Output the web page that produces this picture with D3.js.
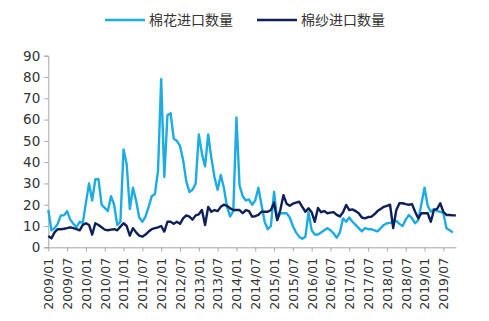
<!DOCTYPE html>
<html><head><meta charset="utf-8">
<script src="https://cdn.jsdelivr.net/npm/d3@7"></script>
<style>
body{margin:0;background:#fff;}
svg{display:block;}
</style></head>
<body><svg id="c" width="489" height="321"></svg>
<script>
const seriesNames = ["棉花进口数量", "棉纱进口数量"];
const startYear = 2009, monthCount = 131;
const yTicks = [0,10,20,30,40,50,60,70,80,90];
// 棉花进口数量 (monthly, 2009/01 - 2019/11)
const cotton = [
17.5,8,9,11,15,15,17,13,11,9.5,12,11.5,
21,30,22,32,32,20,18.5,17,24,20,10.5,12,
46,39,18,28,22,14,12,14.4,19,24,25,36,
79,33,62,63,51,50,47.6,41,31,26,27,30,
53,44,38,53,42,33,27,34,28,19,14.5,17,
61,29,24,22,22.5,20,22,28,20,12,8.5,10,
26,13,16,16,16,14,10,7,5,4,5,16.5,
8,6,6,7,8,9,8,6.5,4.5,7,13.6,12,
14,12,10.5,9,7.5,9,8.5,8.5,8,7.5,9,10.5,
11.3,11.5,12,12.4,11,10,13,15.2,13.6,11.3,12.8,20.5,
28,19.5,16.7,18,17,16.7,16,9,8,7
];
// 棉纱进口数量
const yarn = [
5.3,4.2,7,8.5,8.5,8.7,9,9.4,9,8.5,8,10.5,
11.3,10.5,6,11.3,10.5,9.4,8.3,8,8.3,8.5,8,9.7,
11.3,10,5.5,9,7,5.5,5,6,7.4,8.5,9,9.4,
10,7.4,12,12,11,12,11,13.6,15,14.4,13,15,
15.5,17.5,10.5,19,16.7,17.5,17,19,20,19.5,18.3,17.5,
17.5,17.5,16,17.5,17,14.4,14.6,15.2,16.7,16.7,16.7,17.5,
21,12.8,17.5,24.5,20.5,19.5,20.5,21,21.4,19,16.7,18.3,
16.5,12,18.5,16.5,17,16,16.3,16.5,15.2,14.5,16.5,19.9,
17.5,17.8,17,16,14,13.6,14.2,14.3,15.5,17,18,19,
19.5,20,9,17.5,20.7,20.7,20.3,20,20.3,16.7,13.6,16,
16,16,12,17.5,18,20.7,16.7,15.2,15.2,15,15
];
const colors = ["#1CACE3", "#0F1F5A"];

const months = d3.range(monthCount);
const label = i => `${startYear + Math.floor(i/12)}/${String(i%12+1).padStart(2,"0")}`;

const svg = d3.select("#c");
const x = d3.scaleLinear().domain([0, monthCount-1]).range([48.3, 455.9]);
const y = d3.scaleLinear().domain([0, 90]).range([247.3, 55.7]);
const axisColor = "#a6a6a6";
const font = "'DejaVu Sans', sans-serif";

// y axis
const ya = svg.append("g").attr("transform","translate(48.3,0)")
  .call(d3.axisLeft(y).tickValues(yTicks).tickSize(4).tickPadding(4).tickFormat(d3.format("d")));
ya.select(".domain").attr("stroke",axisColor);
ya.selectAll(".tick line").attr("stroke",axisColor);
ya.selectAll("text").attr("fill","#333").style("font-family",font).style("font-size","13.5px");

// x axis
const xa = svg.append("g").attr("transform","translate(0,247.3)")
  .call(d3.axisBottom(x).tickValues(months.filter(i=>i%6===0)).tickSize(4).tickSizeOuter(0).tickFormat(label));
xa.select(".domain").attr("stroke",axisColor);
xa.selectAll(".tick line").attr("stroke",axisColor);
xa.selectAll("text").attr("fill","#333").style("font-family",font).style("font-size","12.5px")
  .attr("transform","rotate(-90)").attr("text-anchor","end").attr("dx","0").attr("dy","0.35em").attr("y",0).attr("x",-10.5);

// lines
const line = d3.line().x((d,i)=>x(i)).y(d=>y(d));
[cotton, yarn].forEach((s,k)=>{
  svg.append("path").datum(s).attr("d",line).attr("fill","none")
    .attr("stroke",colors[k]).attr("stroke-width",2.4).attr("stroke-linejoin","round");
});

// legend
const lg = [{x0:105,x1:145,tx:149},{x0:257,x1:297,tx:301}];
lg.forEach((p,k)=>{
  svg.append("line").attr("x1",p.x0).attr("x2",p.x1).attr("y1",20).attr("y2",20)
    .attr("stroke",colors[k]).attr("stroke-width",2.4);
  svg.append("text").attr("x",p.tx).attr("y",20).attr("dy","0.35em")
    .attr("fill","#333").style("font-family","'Noto Sans CJK SC', sans-serif").style("font-size","14px")
    .text(seriesNames[k]);
});
</script></body></html>
